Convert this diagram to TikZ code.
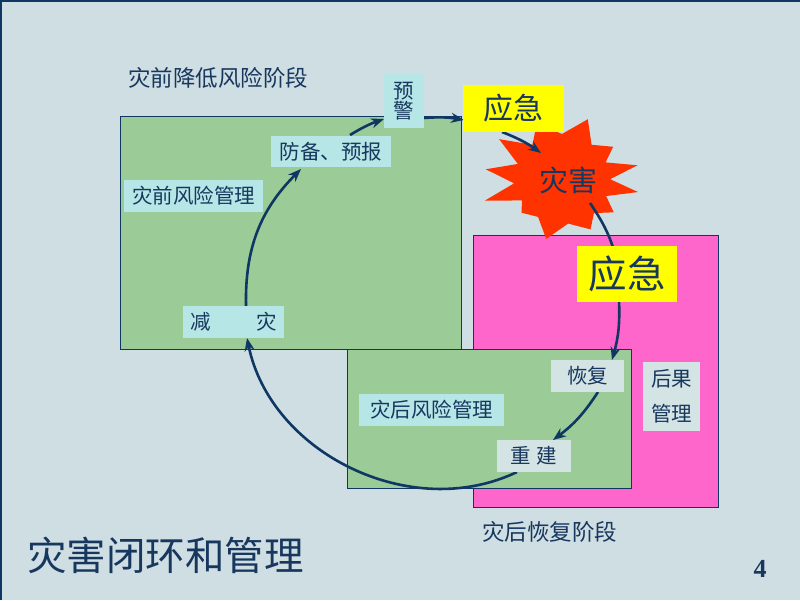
\documentclass[tikz,border=0pt]{standalone}
\usepackage{fontspec}
\setmainfont{Liberation Serif}
\newfontfamily\cjk{Noto Sans CJK SC}
\usetikzlibrary{arrows.meta}
\definecolor{bgc}{HTML}{CFDEE2}
\definecolor{navy}{HTML}{0F3764}
\definecolor{txt}{HTML}{17375E}
\definecolor{grn}{HTML}{9BCB96}
\definecolor{pnk}{HTML}{FF66CC}
\definecolor{cyn}{HTML}{B6E6E6}
\definecolor{gry}{HTML}{D4E3E3}
\definecolor{ylw}{HTML}{FFFF00}
\definecolor{burst}{HTML}{FF3300}
\newcommand\myfs[1]{\fontsize{#1}{#1}\selectfont}
\begin{document}
\begin{tikzpicture}[x=1pt,y=1pt,
  region/.style={draw=navy,line width=1pt},
  lbl/.style={fill=cyn,inner sep=0pt,text=txt,font=\cjk\myfs{20.5pt},align=center},
  glbl/.style={lbl,fill=gry},
  yl/.style={fill=ylw,inner sep=0pt,text=txt},
  arc/.style={draw=navy,line width=2.6pt},
  arr/.style={arc,-{Stealth[length=13pt,width=10pt]}},
  plain/.style={inner sep=0pt,text=txt}]
\useasboundingbox (0,0) rectangle (800,600);
\fill[bgc] (0,0) rectangle (800,600);
\draw[navy,line width=2pt] (1,0) -- (1,599) -- (800,599);
% regions
\draw[region,fill=grn] (120,250) rectangle (461,483);
\draw[region,fill=pnk] (473,93) rectangle (718,364);
\draw[region,fill=grn] (347,112) rectangle (631,250);
% starburst
\fill[burst,shift={(562,420)}] (114:62) -- (90:46) -- (67:66) -- (50:46) -- (33:61) -- (22:47) -- (11:77) -- (1:48) -- (-9:77) -- (-20:47) -- (-32:61) -- (-46:46) -- (-60:57) -- (-82:44) -- (-105:61) -- (-123:44) -- (-141:52) -- (-153:45) -- (-165:80) -- (-176:48) -- (172:77) -- (160:47) -- (147:75) -- (130:46) -- cycle;
\node[plain,font=\cjk\myfs{29pt}] (zh) at (568,420) {灾害};
% arc end points on the cycle
\coordinate (a1s) at (246,294);
\coordinate (a1e) at (301,431);
\coordinate (a2s) at (350,465);
\coordinate (a2e) at (384,481);
\coordinate (a3s) at (424,482);
\coordinate (a3e) at (464,480);
\coordinate (a4s) at (502,468);
\coordinate (a4e) at (541,447);
\coordinate (a5s) at (590,397);
\coordinate (a5e) at (619,330);
\coordinate (a6s) at (619,300);
\coordinate (a6e) at (612,240);
\coordinate (a7s) at (598,208);
\coordinate (a7e) at (553,160);
\coordinate (a8s) at (517,128);
\coordinate (a8e) at (247,262);
\draw[arr] (a1s) to[bend left=23] (a1e);
\draw[arr] (a2s) to[bend left=6] (a2e);
\draw[arr] (a3s) to[bend left=7] (a3e);
\draw[arr] (a4s) to[bend left=7] (a4e);
\draw[arc] (a5s) to[bend left=11] (a5e);
\draw[arr] (a6s) to[bend left=9] (a6e);
\draw[arr] (a7s) to[bend left=10] (a7e);
\draw[arr] (a8s) to[bend left=52] (a8e);
% boxes
\node[lbl,minimum width=40pt,minimum height=54pt] (yj) at (404,499) {预\\[-1pt]警};
\node[yl,minimum width=101pt,minimum height=47pt,font=\cjk\myfs{30pt}] (yj1) at (513.5,491.5) {应急};
\node[yl,minimum width=100pt,minimum height=56pt,font=\cjk\myfs{38.5pt}] (yj2) at (627,326) {应急};
\node[lbl,minimum width=120pt,minimum height=31pt] (fb) at (331,448.5) {防备、预报};
\node[lbl,minimum width=139pt,minimum height=32pt] (zq) at (193.5,404) {灾前风险管理};
\node[lbl,minimum width=101pt,minimum height=32pt] (jz) at (233.5,278) {减\hspace{45pt}灾};
\node[glbl,minimum width=73pt,minimum height=32pt] (hf) at (587.5,224) {恢复};
\node[glbl,minimum width=57pt,minimum height=69pt] (hg) at (671.5,203.5) {后果\\[14pt]管理};
\node[lbl,minimum width=145pt,minimum height=32pt] (zh2) at (431.5,190) {灾后风险管理};
\node[glbl,minimum width=74pt,minimum height=32pt] (cj) at (534,144) {重\hspace{6pt}建};
% texts
\node[plain,anchor=west,font=\cjk\myfs{22.5pt}] (t1) at (128,522) {灾前降低风险阶段};
\node[plain,font=\cjk\myfs{22.5pt}] (t2) at (549.5,68) {灾后恢复阶段};
\node[plain,anchor=west,font=\cjk\myfs{39.5pt}] (t3) at (27,45) {灾害闭环和管理};
\node[plain,font=\bfseries\myfs{26pt}] (t4) at (760,31) {4};
\end{tikzpicture}
\end{document}
